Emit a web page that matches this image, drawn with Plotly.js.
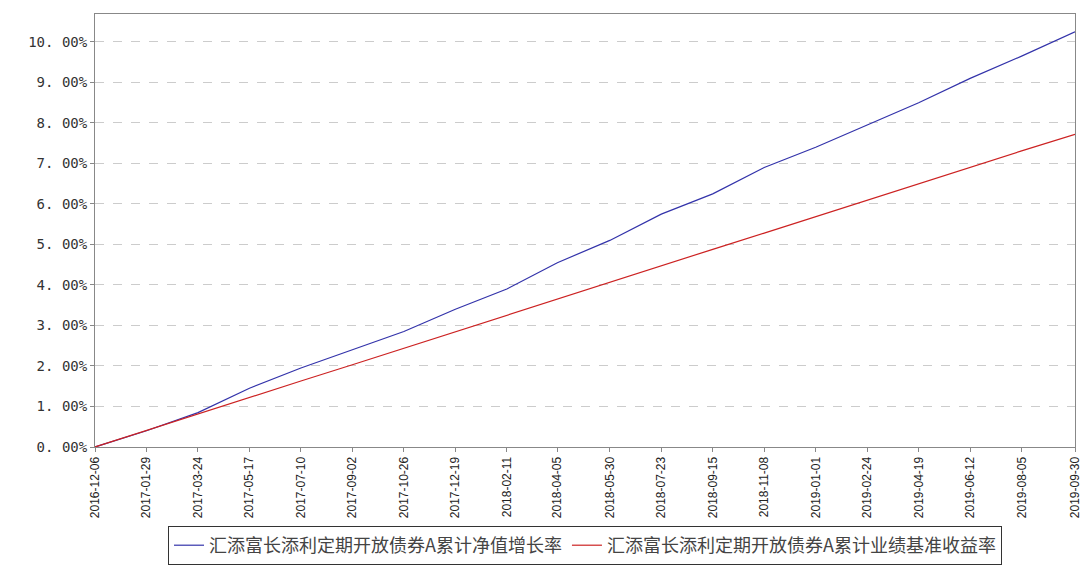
<!DOCTYPE html>
<html>
<head>
<meta charset="utf-8">
<script src="https://cdn.plot.ly/plotly-3.0.1.min.js"></script>
<style>body{margin:0;background:#fff}#plot{width:1084px;height:565px}</style>
</head>
<body>
<div id="plot"></div>
<script>
'use strict';

const dates = ['2016-12-06', '2017-01-29', '2017-03-24', '2017-05-17', '2017-07-10',
  '2017-09-02', '2017-10-26', '2017-12-19', '2018-02-11', '2018-04-05', '2018-05-30',
  '2018-07-23', '2018-09-15', '2018-11-08', '2019-01-01', '2019-02-24', '2019-04-19',
  '2019-06-12', '2019-08-05', '2019-09-30'];
const fundValues = [0, 0.40, 0.85, 1.45, 1.95, 2.40, 2.85, 3.40, 3.90, 4.55, 5.10,
  5.75, 6.25, 6.90, 7.40, 7.95, 8.50, 9.10, 9.65, 10.25];
const benchValues = [0, 0.41, 0.81, 1.22, 1.63, 2.03, 2.44, 2.84, 3.25, 3.66, 4.06,
  4.47, 4.88, 5.28, 5.69, 6.09, 6.50, 6.91, 7.31, 7.72];
const yTicks = [0, 1, 2, 3, 4, 5, 6, 7, 8, 9, 10];
const yTickText = yTicks.map(v => v.toFixed(2).replace('.', '. ') + '%');

const traces = [
  {x: dates, y: fundValues, type: 'scatter', mode: 'lines', line: {color: '#3333aa', width: 1.2},
   name: '汇添富长添利定期开放债券A累计净值增长率'},
  {x: dates, y: benchValues, type: 'scatter', mode: 'lines', line: {color: '#cc2222', width: 1.2},
   name: '汇添富长添利定期开放债券A累计业绩基准收益率'}
];

const layout = {
  paper_bgcolor: '#fff',
  plot_bgcolor: '#fff',
  margin: {l: 95, r: 9, t: 14, b: 118},
  font: {family: 'Noto Sans CJK SC, sans-serif', color: '#333'},
  showlegend: true,
  legend: {orientation: 'h', x: 0.5, xanchor: 'center', yref: 'container', y: 0.0, yanchor: 'bottom',
    bordercolor: '#333', borderwidth: 1, font: {size: 18, color: '#444'}},
  xaxis: {type: 'date', range: ['2016-12-06', '2019-09-30'], tickvals: dates, ticktext: dates,
    tickangle: -90, tickfont: {size: 12, family: 'Liberation Sans, sans-serif', color: '#222'},
    automargin: false,
    showgrid: false, showline: true, linecolor: '#888', mirror: true, ticks: 'outside',
    ticklen: 4, tickcolor: '#888'},
  yaxis: {range: [0, 10.69], tickvals: yTicks, ticktext: yTickText, automargin: false,
    tickfont: {size: 14, family: 'DejaVu Sans Mono, monospace', color: '#333'},
    showgrid: true, gridcolor: '#ccc', griddash: 'dash', zeroline: false,
    showline: true, linecolor: '#888', mirror: true, ticks: 'outside', ticklen: 4, tickcolor: '#888'}
};

Plotly.newPlot('plot', traces, layout, {displayModeBar: false});
</script>
</body>
</html>
